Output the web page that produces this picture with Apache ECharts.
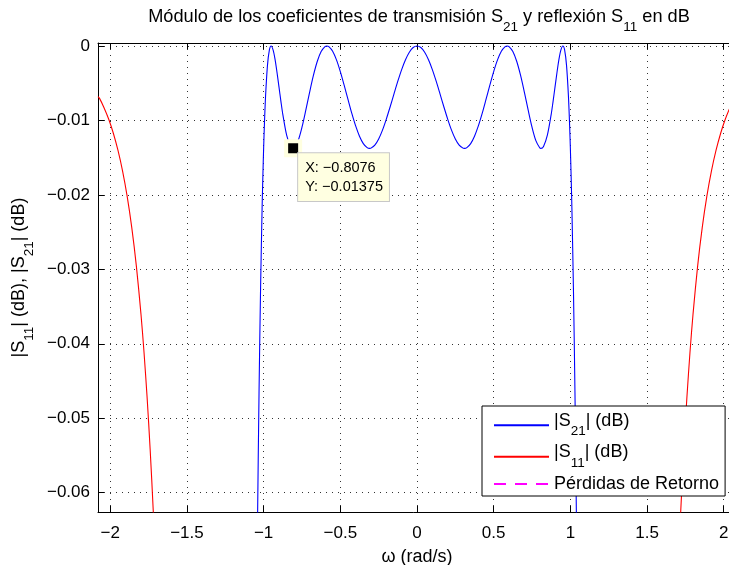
<!DOCTYPE html>
<html>
<head>
<meta charset="utf-8">
<script src="https://cdn.jsdelivr.net/npm/echarts@6/dist/echarts.min.js"></script>
<style>html,body{margin:0;padding:0;background:#fff;}#c{width:729px;height:565px;}</style>
</head>
<body>
<div id="c"></div>
<script>
const xTicks = [-2, -1.5, -1, -0.5, 0, 0.5, 1, 1.5, 2];
const yTicks = [0, -0.01, -0.02, -0.03, -0.04, -0.05, -0.06];

const s21Omega = [
  -1.05, -1.04, -1.03, -1.02, -1.01, -1.005, -1.0, -0.995,
  -0.9875, -0.975, -0.9625, -0.951, -0.9375, -0.925, -0.9125, -0.9,
  -0.8875, -0.875, -0.85, -0.825, -0.8076, -0.8, -0.775, -0.75,
  -0.725, -0.7, -0.675, -0.65, -0.625, -0.6, -0.588, -0.575,
  -0.55, -0.525, -0.5, -0.475, -0.45, -0.425, -0.4, -0.375,
  -0.35, -0.325, -0.309, -0.3, -0.275, -0.25, -0.225, -0.2,
  -0.175, -0.15, -0.125, -0.1, -0.075, -0.05, -0.025, 0,
  0.025, 0.05, 0.075, 0.1, 0.125, 0.15, 0.175, 0.2,
  0.225, 0.25, 0.275, 0.3, 0.309, 0.325, 0.35, 0.375,
  0.4, 0.425, 0.45, 0.475, 0.5, 0.525, 0.55, 0.575,
  0.588, 0.6, 0.625, 0.65, 0.675, 0.7, 0.725, 0.75,
  0.775, 0.8, 0.8076, 0.825, 0.85, 0.875, 0.8875, 0.9,
  0.9125, 0.925, 0.9375, 0.951, 0.9625, 0.975, 0.9875, 0.995,
  1.0, 1.005, 1.01, 1.02, 1.03, 1.04, 1.05
];
const s21Db = [
  -0.08645, -0.06432, -0.04657, -0.03258, -0.02181, -0.01747, -0.01375, -0.01058,
  -0.00679, -0.00261, -0.00053, 0, -0.00058, -0.00187, -0.00359, -0.00550,
  -0.00740, -0.00918, -0.01198, -0.01349, -0.01375, -0.01367, -0.01271, -0.01091,
  -0.00862, -0.00619, -0.00392, -0.00205, -0.00074, -0.00008, 0, -0.00009,
  -0.00071, -0.00187, -0.00344, -0.00526, -0.00718, -0.00906, -0.01074, -0.01212,
  -0.01311, -0.01365, -0.01375, -0.01372, -0.01332, -0.01249, -0.01130, -0.00982,
  -0.00816, -0.00643, -0.00473, -0.00317, -0.00185, -0.00084, -0.00021, 0,
  -0.00021, -0.00084, -0.00185, -0.00317, -0.00473, -0.00643, -0.00816, -0.00982,
  -0.01130, -0.01249, -0.01332, -0.01372, -0.01375, -0.01365, -0.01311, -0.01212,
  -0.01074, -0.00906, -0.00718, -0.00526, -0.00344, -0.00187, -0.00071, -0.00009,
  0, -0.00008, -0.00074, -0.00205, -0.00392, -0.00619, -0.00862, -0.01091,
  -0.01271, -0.01367, -0.01375, -0.01349, -0.01198, -0.00918, -0.00740, -0.00550,
  -0.00359, -0.00187, -0.00058, 0, -0.00053, -0.00261, -0.00679, -0.01058,
  -0.01375, -0.01747, -0.02181, -0.03258, -0.04657, -0.06432, -0.08645
];

const s11LeftOmega = [-2.08, -2.07, -2.04, -2.01, -1.98, -1.95, -1.92, -1.89, -1.86, -1.83, -1.80, -1.78, -1.76, -1.74, -1.72, -1.70];
const s11LeftDb    = [-0.00680, -0.00704, -0.00832, -0.00985, -0.01172, -0.01400, -0.01677, -0.02017, -0.02436, -0.02954, -0.03598, -0.04115, -0.04716, -0.05416, -0.06234, -0.07193];
const s11RightOmega = [1.70, 1.72, 1.74, 1.76, 1.78, 1.80, 1.83, 1.86, 1.89, 1.92, 1.95, 1.98, 2.01, 2.04, 2.07, 2.08];
const s11RightDb    = [-0.07193, -0.06234, -0.05416, -0.04716, -0.04115, -0.03598, -0.02954, -0.02436, -0.02017, -0.01677, -0.01400, -0.01172, -0.00985, -0.00832, -0.00704, -0.00680];

const returnLossOmega = [];
const returnLossDb = [];

const datatipX = -0.8076;
const datatipY = -0.01375;

const seriesNames = ['|S21| (dB)', '|S11| (dB)', 'Pérdidas de Retorno'];
const titleText = 'Módulo de los coeficientes de transmisión S21 y reflexión S11 en dB';
const xName = 'ω (rad/s)';
const yName = '|S11| (dB), |S21| (dB)';

const FONT = '"Liberation Sans", Arial, Helvetica, sans-serif';
const zip = (a, b) => a.map((v, i) => [v, b[i]]);
const minus = v => (v < 0 ? '\u2212' : '') + String(Math.abs(v));

function richStyles(base, sub, lb) {
  return {
    b: { fontSize: base, lineHeight: lb, verticalAlign: 'top', color: '#000', fontFamily: FONT },
    s: { fontSize: sub, verticalAlign: 'bottom', color: '#000', fontFamily: FONT },
    p: { fontSize: base, lineHeight: lb, color: '#000', fontFamily: FONT }
  };
}
function subify(str) {
  const parts = str.split(/S(\d\d)/);
  let out = '';
  for (let i = 0; i < parts.length; i++) {
    if (i % 2 === 0) { if (parts[i]) out += '{b|' + parts[i] + '}'; }
    else out += '{b|S}{s|' + parts[i] + '}';
  }
  return out;
}

const chart = echarts.init(document.getElementById('c'), null, { renderer: 'canvas' });

const axisLineStyle = { color: '#000', width: 1 };
const gridLine = { show: true, lineStyle: { color: '#333', width: 1, type: [1, 5] } };

const option = {
  animation: false,
  backgroundColor: '#fff',
  title: {
    text: subify(titleText),
    left: 419, top: 8, padding: 0,
    textAlign: 'center',
    textStyle: { fontSize: 18.2, fontWeight: 'normal', color: '#000', fontFamily: FONT, rich: richStyles(18.2, 13.5, 26.5) }
  },
  grid: { left: 98, right: -7, top: 43, bottom: 53, containLabel: false, outerBoundsMode: 'none' },
  legend: {
    orient: 'vertical', left: 482, top: 406,
    backgroundColor: '#fff', borderColor: '#000', borderWidth: 1, borderRadius: 0,
    padding: [6, 6, 3, 11],
    itemWidth: 55, itemHeight: 14, itemGap: 5,
    itemStyle: { opacity: 0 },
    data: seriesNames,
    formatter: name => (/S\d\d/.test(name) ? subify(name) : '{p|' + name + '}'),
    textStyle: { fontSize: 18, color: '#000', fontFamily: FONT, rich: richStyles(18, 13.5, 26.5) }
  },
  xAxis: [
    {
      type: 'value', position: 'bottom', min: -2.08, max: 2.08,
      name: xName, nameLocation: 'middle', nameGap: 27,
      nameTextStyle: { fontSize: 18, color: '#000', fontFamily: FONT, lineHeight: 20 },
      axisLine: { show: true, onZero: false, lineStyle: axisLineStyle },
      axisTick: { show: true, inside: true, length: 6, customValues: xTicks, lineStyle: { color: '#000' } },
      axisLabel: { show: true, customValues: xTicks, margin: 12, fontSize: 17, color: '#000', fontFamily: FONT, lineHeight: 18, formatter: minus },
      splitLine: gridLine
    },
    {
      type: 'value', position: 'top', min: -2.08, max: 2.08,
      axisLine: { show: true, onZero: false, lineStyle: axisLineStyle },
      axisTick: { show: true, inside: true, length: 6, customValues: xTicks, lineStyle: { color: '#000' } },
      axisLabel: { show: false },
      splitLine: { show: false }
    }
  ],
  yAxis: [
    {
      type: 'value', position: 'left', min: -0.0626, max: 0.0004,
      name: subify(yName), nameLocation: 'middle', nameGap: 52, nameRotate: 90,
      nameTextStyle: { fontSize: 18, color: '#000', fontFamily: FONT, rich: richStyles(18, 13.5, 26.5) },
      axisLine: { show: true, onZero: false, lineStyle: axisLineStyle },
      axisTick: { show: true, inside: true, length: 6, customValues: yTicks, lineStyle: { color: '#000' } },
      axisLabel: { show: true, customValues: yTicks, margin: 8, fontSize: 17, color: '#000', fontFamily: FONT, formatter: minus },
      splitLine: gridLine
    }
  ],
  series: [
    {
      name: seriesNames[0], type: 'line', data: zip(s21Omega, s21Db),
      showSymbol: false, symbol: 'none', smooth: 0.3, clip: true,
      lineStyle: { color: '#0000ff', width: 1.1 }, itemStyle: { color: '#0000ff' }, z: 3
    },
    {
      name: seriesNames[1], type: 'line', data: zip(s11LeftOmega, s11LeftDb),
      showSymbol: false, symbol: 'none', smooth: 0.3, clip: true,
      lineStyle: { color: '#ff0000', width: 1.1 }, itemStyle: { color: '#ff0000' }, z: 3
    },
    {
      name: seriesNames[1], type: 'line', data: zip(s11RightOmega, s11RightDb),
      showSymbol: false, symbol: 'none', smooth: 0.3, clip: true,
      lineStyle: { color: '#ff0000', width: 1.1 }, itemStyle: { color: '#ff0000' }, z: 3
    },
    {
      name: seriesNames[2], type: 'line', data: zip(returnLossOmega, returnLossDb),
      showSymbol: false, symbol: 'none',
      lineStyle: { color: '#ff00ff', width: 1.1, type: [12, 9] }, itemStyle: { color: '#ff00ff' }
    },
    {
      name: 'datatip', type: 'scatter', data: [[datatipX, datatipY]],
      symbol: 'rect', symbolSize: 14, z: 10,
      itemStyle: { color: '#000', borderColor: '#ffffe0', borderWidth: 4, opacity: 1 },
      label: {
        show: true, position: [14, 14],
        formatter: p => 'X: ' + minus(p.value[0]) + '\nY: ' + minus(p.value[1]),
        backgroundColor: '#ffffe1', borderColor: '#c8c8c8', borderWidth: 1,
        padding: [6, 6, 5, 7], lineHeight: 18.3,
        fontSize: 14.5, color: '#000', fontFamily: FONT
      },
      emphasis: { disabled: true }
    }
  ]
};
chart.setOption(option);
</script>
</body>
</html>
